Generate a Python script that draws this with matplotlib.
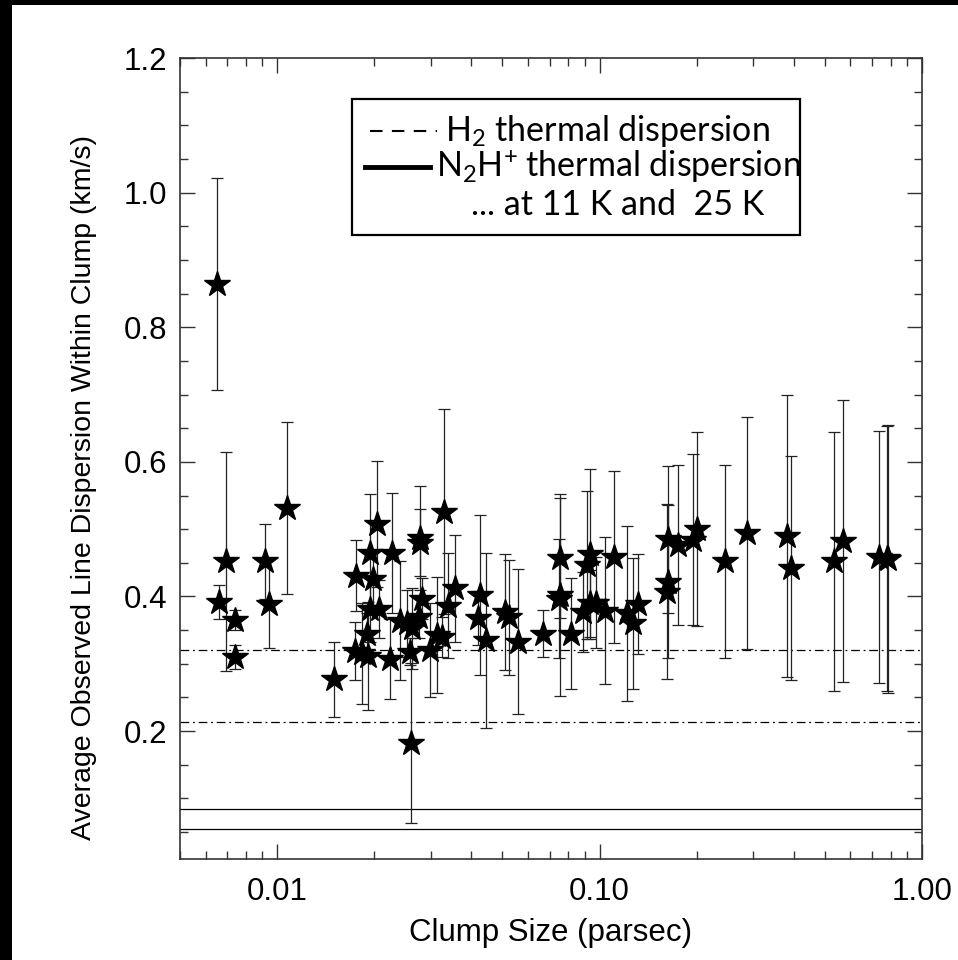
import matplotlib
matplotlib.use("Agg")
import matplotlib.pyplot as plt
from matplotlib.patches import Rectangle
from matplotlib.lines import Line2D
from matplotlib.ticker import FixedLocator, NullFormatter, FixedFormatter
import numpy as np

plt.rcParams['font.family'] = ['Liberation Sans', 'DejaVu Sans']
plt.rcParams['mathtext.fontset'] = 'custom'
plt.rcParams['mathtext.rm'] = 'Lato'
plt.rcParams['mathtext.it'] = 'Lato'
plt.rcParams['mathtext.bf'] = 'Lato'

# ---------------- data ----------------
clump_size = [0.0065, 0.00662, 0.00693, 0.0074, 0.0074, 0.00917, 0.00944, 0.01076,
              0.0150, 0.01744, 0.0176, 0.0183, 0.0190, 0.0192, 0.0194, 0.0194,
              0.01988, 0.02045, 0.02075, 0.0224, 0.02276, 0.02405, 0.02523, 0.02614,
              0.0260, 0.0258, 0.0276, 0.02774, 0.0278, 0.0281, 0.0298, 0.03126,
              0.0324, 0.0329, 0.03396, 0.0356, 0.0426, 0.0421, 0.0444, 0.0509,
              0.0525, 0.0560, 0.0667, 0.0754, 0.0754, 0.0750, 0.0816, 0.0912,
              0.0937, 0.0890, 0.0934, 0.0975, 0.1040, 0.1109, 0.1221, 0.1267,
              0.1314, 0.1633, 0.1633, 0.1622, 0.1747, 0.1953, 0.2001, 0.2449,
              0.286, 0.382, 0.392, 0.535, 0.570, 0.735, 0.777, 0.786]
dispersion = [0.864, 0.392, 0.452, 0.365, 0.310, 0.452, 0.389, 0.531,
              0.277, 0.319, 0.431, 0.316, 0.345, 0.312, 0.465, 0.382,
              0.426, 0.508, 0.381, 0.307, 0.465, 0.364, 0.360, 0.353,
              0.182, 0.318, 0.369, 0.4865, 0.480, 0.397, 0.320, 0.343,
              0.340, 0.526, 0.386, 0.412, 0.402, 0.368, 0.335, 0.377,
              0.369, 0.333, 0.345, 0.457, 0.402, 0.397, 0.345, 0.447,
              0.463, 0.377, 0.390, 0.391, 0.379, 0.459, 0.375, 0.360,
              0.389, 0.485, 0.422, 0.407, 0.476, 0.484, 0.500, 0.452,
              0.494, 0.490, 0.442, 0.452, 0.4825, 0.459, 0.457, 0.456]
dispersion_err = [0.157, 0.025, 0.163, 0.015, 0.018, 0.055, 0.066, 0.128,
                  0.056, 0.043, 0.053, 0.075, 0.030, 0.080, 0.088, 0.050,
                  0.040, 0.094, 0.043, 0.060, 0.089, 0.088, 0.050, 0.060,
                  0.119, 0.020, 0.030, 0.077, 0.050, 0.030, 0.070, 0.086,
                  0.030, 0.152, 0.078, 0.079, 0.119, 0.040, 0.130, 0.086,
                  0.085, 0.108, 0.035, 0.089, 0.150, 0.088, 0.082, 0.110,
                  0.126, 0.060, 0.050, 0.068, 0.109, 0.128, 0.130, 0.097,
                  0.074, 0.109, 0.114, 0.130, 0.119, 0.127, 0.144, 0.143,
                  0.172, 0.210, 0.1665, 0.192, 0.210, 0.187, 0.197, 0.199]

h2_thermal = [0.213, 0.321]      # H2 thermal dispersion at 11 K and 25 K
n2h_thermal = [0.0552, 0.0843]   # N2H+ thermal dispersion at 11 K and 25 K

x_ticks = [0.01, 0.1, 1.0]
x_ticklabels = ['0.01', '0.10', '1.00']
y_ticks = [0.2, 0.4, 0.6, 0.8, 1.0, 1.2]
y_ticklabels = ['0.2', '0.4', '0.6', '0.8', '1.0', '1.2']

# ---------------- figure ----------------
W, H = 958, 960
fig = plt.figure(figsize=(W / 100, H / 100), dpi=100)
fig.patch.set_facecolor('white')
fig.patches.append(Rectangle((0, 1 - 5 / H), 1, 5 / H, transform=fig.transFigure,
                             facecolor='black', edgecolor='none', zorder=-5))
fig.patches.append(Rectangle((0, 0), 12 / W, 1, transform=fig.transFigure,
                             facecolor='black', edgecolor='none', zorder=-5))

ax = fig.add_axes([180 / W, 1 - 859 / H, (922 - 180) / W, (859 - 58) / H])
ax.set_xscale('log')
ax.set_xlim(0.005, 1.0)
ax.set_ylim(0.01, 1.2)

for v in h2_thermal:
    ax.axhline(v, color='black', lw=0.9, linestyle=(0, (7, 3, 1.5, 3)), zorder=1)
for v in n2h_thermal:
    ax.axhline(v, color='black', lw=0.9, linestyle='-', zorder=1)

ax.errorbar(clump_size, dispersion, yerr=dispersion_err, fmt='none',
            ecolor='#222222', elinewidth=0.9, capsize=4.5, capthick=0.9, zorder=2)
ax.plot(clump_size, dispersion, linestyle='none', marker='*', ms=19,
        color='black', markeredgecolor='black', zorder=3)

# ticks
ax.xaxis.set_major_locator(FixedLocator(x_ticks))
ax.xaxis.set_major_formatter(FixedFormatter(x_ticklabels))
minor_x = [m * 10.0 ** e for e in (-3, -2, -1) for m in range(2, 10)]
minor_x = [v for v in minor_x if 0.005 <= v <= 1.0]
ax.xaxis.set_minor_locator(FixedLocator(minor_x))
ax.xaxis.set_minor_formatter(NullFormatter())
ax.yaxis.set_major_locator(FixedLocator(y_ticks))
ax.yaxis.set_major_formatter(FixedFormatter(y_ticklabels))
ax.yaxis.set_minor_locator(FixedLocator(np.arange(0.05, 1.2, 0.05)))

ax.tick_params(which='both', direction='in', top=True, right=True,
               color='#333333', width=1.0)
ax.tick_params(which='major', length=11, labelsize=22.5)
ax.tick_params(axis='x', which='major', pad=13)
ax.tick_params(axis='y', which='major', pad=9)
ax.tick_params(which='minor', length=5.5)
for sp in ax.spines.values():
    sp.set_color('#333333')
    sp.set_linewidth(1.2)

ax.set_xlabel('Clump Size (parsec)', fontsize=22.5, labelpad=8)
ax.set_ylabel('Average Observed Line Dispersion Within Clump (km/s)', fontsize=20.5)
ax.yaxis.set_label_coords(-0.112, 0.464)

# legend box (drawn manually)
lx0, lx1 = 352, 800
ly0, ly1 = 99, 235
def fx(p):
    return (p - 180) / (922 - 180)
def fy(p):
    return (859 - p) / (859 - 58)
ax.add_patch(Rectangle((fx(lx0), fy(ly1)), fx(lx1) - fx(lx0), fy(ly0) - fy(ly1),
                       transform=ax.transAxes, facecolor='white', edgecolor='black',
                       lw=1.6, zorder=5))
ax.add_line(Line2D([fx(370), fx(437)], [fy(131), fy(131)], transform=ax.transAxes,
                   color='black', lw=1.5, linestyle=(0, (6, 4.5)), zorder=6))
ax.add_line(Line2D([fx(365), fx(430)], [fy(167), fy(167)], transform=ax.transAxes,
                   color='black', lw=3.5, zorder=6))
legfont = dict(fontsize=24.5, family='Lato', transform=ax.transAxes, zorder=6,
               va='baseline', ha='left')
ax.text(fx(445), fy(141), r'H$_2$ thermal dispersion', **legfont)
ax.text(fx(436), fy(177), r'N$_2$H$^{+}\;$thermal dispersion', **legfont)
ax.text(fx(471), fy(215), '... at 11 K and  25 K', **legfont)

fig.savefig('out.png', dpi=100, facecolor=fig.get_facecolor())
